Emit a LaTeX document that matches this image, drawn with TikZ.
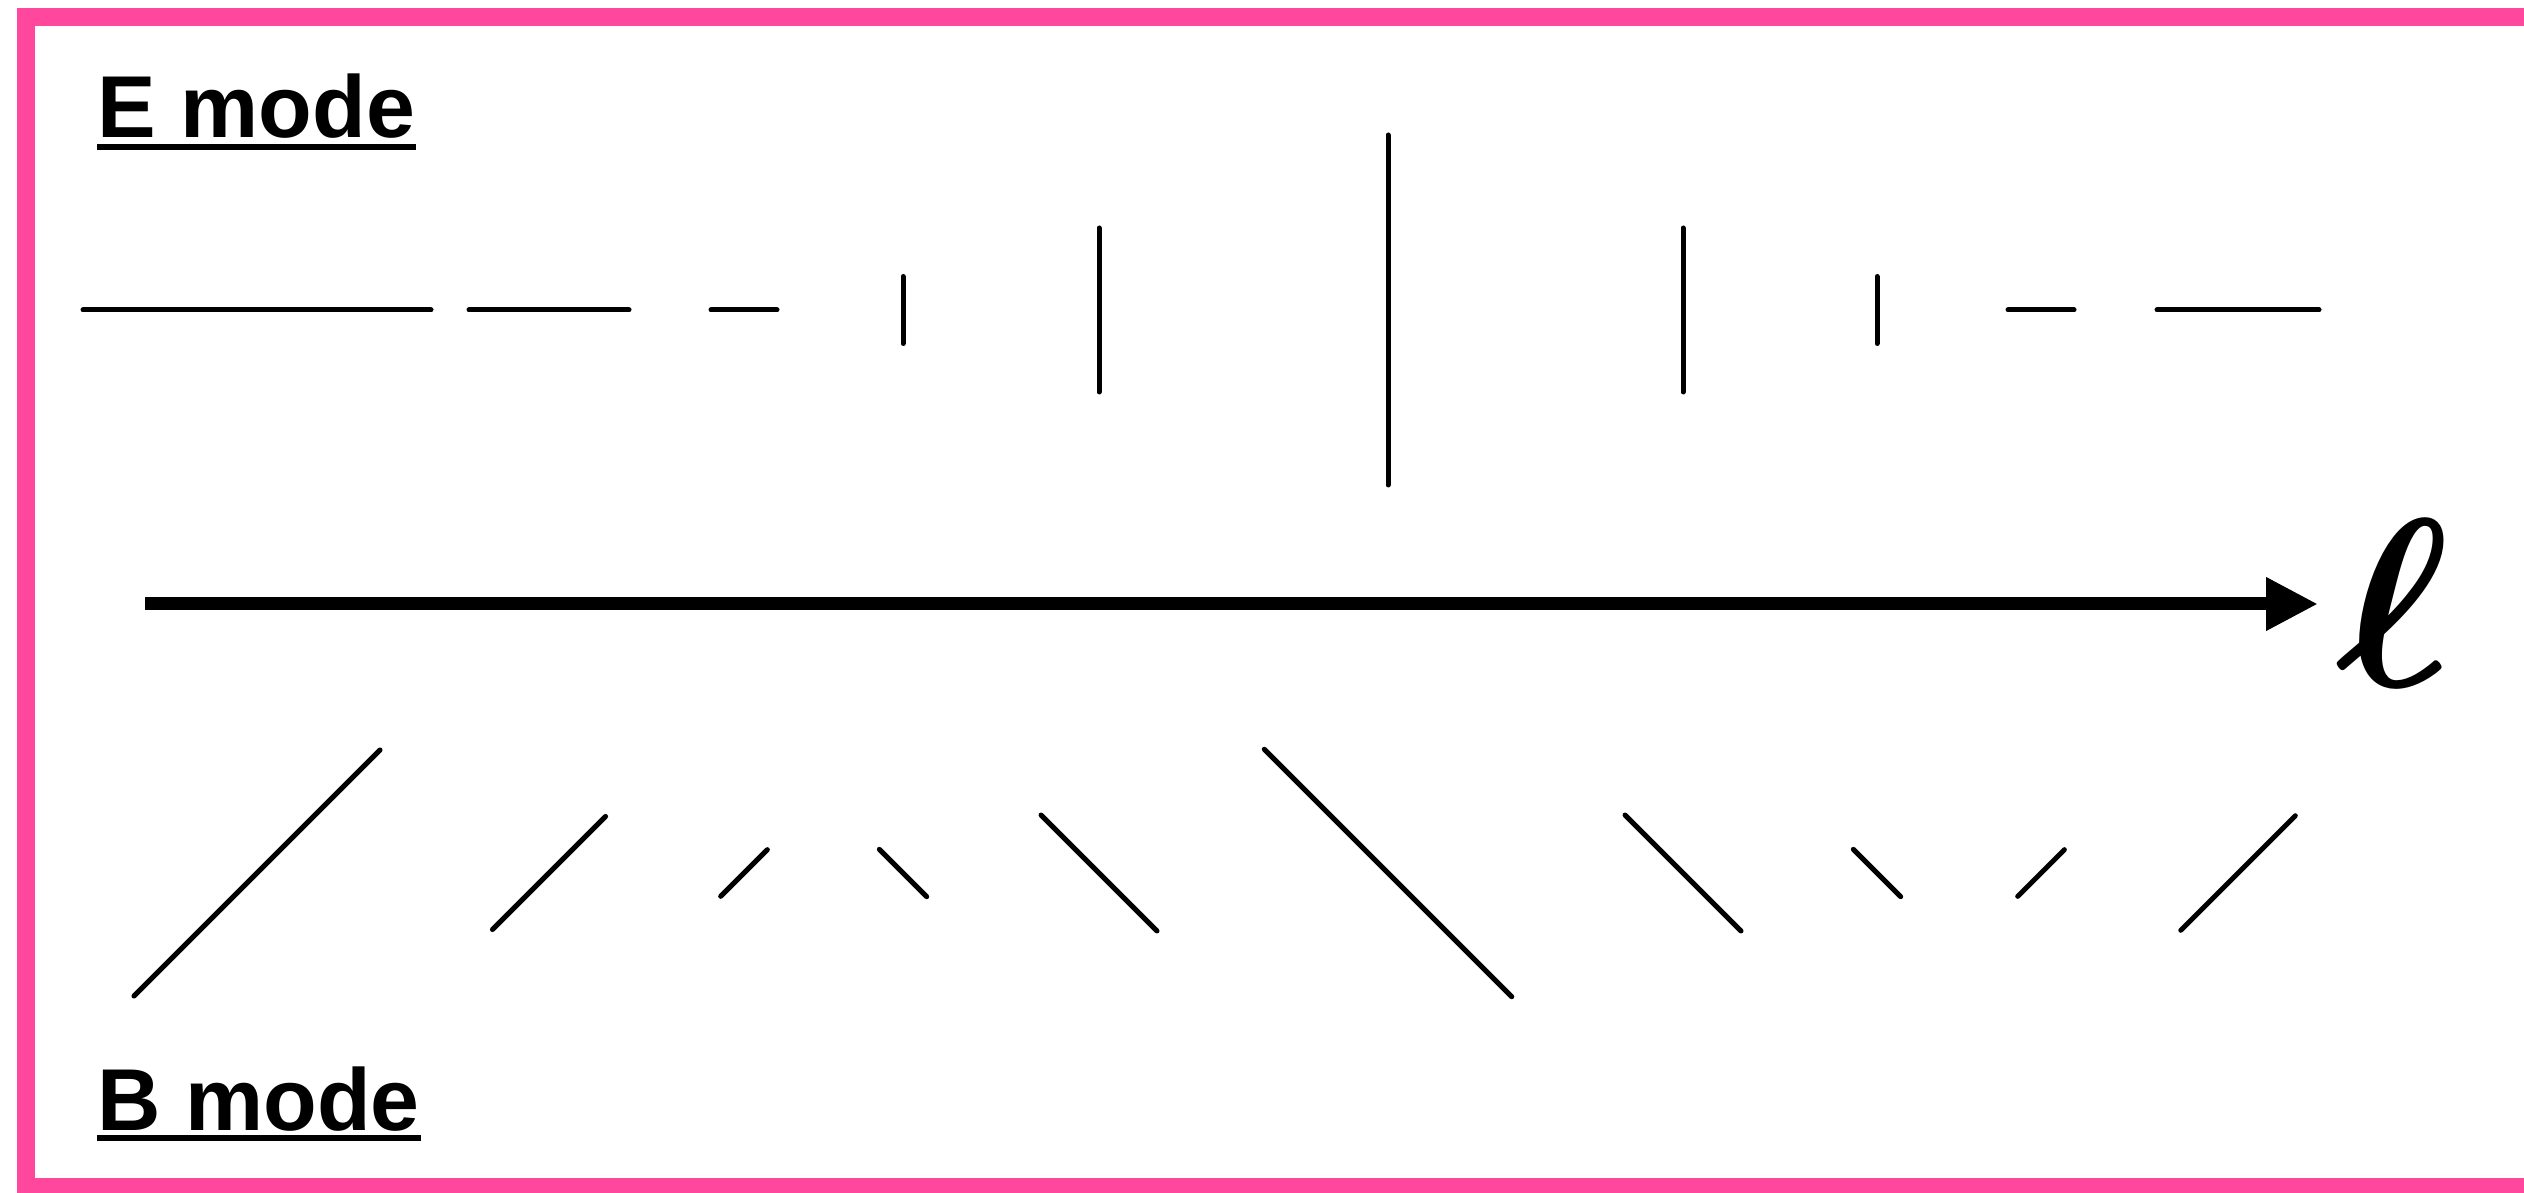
\documentclass[tikz,border=0pt]{standalone}
\usepackage{fontspec}
\setmainfont{Liberation Sans}
\usepackage{bm}
\usepackage{tikz}
\usetikzlibrary{arrows.meta}
\definecolor{rosa}{HTML}{FF479E}

\begin{document}
\begin{tikzpicture}[
    stick/.style={line width=0.05cm, black, line cap=round},
    modelabel/.style={inner sep=0pt, anchor=base west,
      font=\bfseries\fontsize{25}{30}\selectfont},
    uline/.style={line width=0.06cm}]
  \useasboundingbox (0,0) rectangle (25.24,11.92);
  \clip (0,0) rectangle (25.24,11.92);

  % Rahmen
  \draw[rosa, line width=0.18cm] (0.26,0.05) rectangle (26.0,11.75);

  % E mode
  \node[modelabel] (emode) at (0.97,10.54) {E mode};
  \draw[uline] ([yshift=-0.09cm]emode.base west) -- ([yshift=-0.09cm]emode.base east);

  % B mode
  \node[modelabel] (bmode) at (0.97,0.62) {B mode};
  \draw[uline] ([yshift=-0.08cm]bmode.base west) -- ([yshift=-0.08cm]bmode.base east);

  % Striche: oben E, unten B (um 45 Grad gedreht)
  \foreach \x/\r/\a in {2.57/1.74/0, 5.49/0.80/0, 7.44/0.33/0, 9.03/0.335/90,
      10.99/0.82/90, 13.88/1.75/90, 16.83/0.82/90, 18.77/0.335/90,
      20.41/0.33/0, 22.38/0.81/0} {
    \draw[stick] (\x,8.82) ++(\a:\r) -- ++(\a+180:2*\r);
    \draw[stick] (\x,3.19) ++(\a+45:\r) -- ++(\a+225:2*\r);
  }

  % Achse
  \coordinate (lstart) at (1.45,5.88);
  \coordinate (lend) at (23.18,5.88);
  \draw[line width=0.13cm, -{Triangle[length=0.52cm, width=0.50cm]}] (lstart) -- (lend);
  \node[font=\Huge, scale=2.75, inner sep=0pt] (ell) at (23.93,5.89) {$\bm{\ell}$};
\end{tikzpicture}
\end{document}
